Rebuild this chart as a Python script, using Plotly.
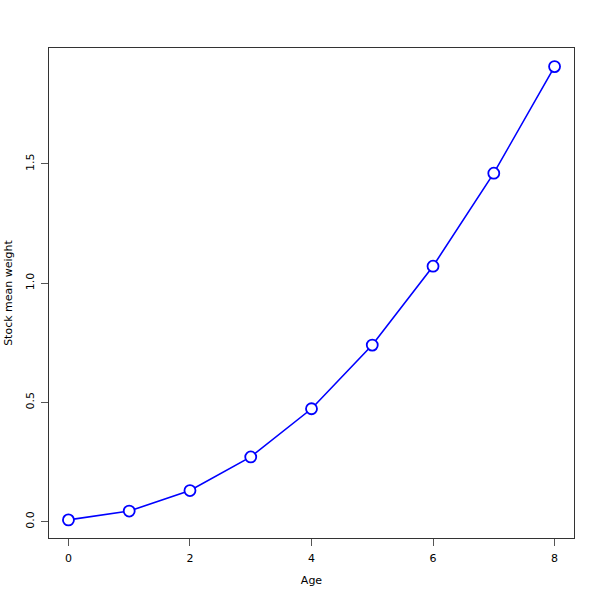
import plotly.graph_objects as go

ages = [0, 1, 2, 3, 4, 5, 6, 7, 8]
weights = [0.007, 0.044, 0.130, 0.271, 0.473, 0.740, 1.071, 1.461, 1.908]
x_ticks = [0, 2, 4, 6, 8]
y_ticks = [0.0, 0.5, 1.0, 1.5]
y_tick_labels = ["0.0", "0.5", "1.0", "1.5"]

fig = go.Figure()
fig.add_trace(go.Scatter(
    x=ages, y=weights, mode="lines+markers",
    line=dict(color="#0000ff", width=1.6),
    marker=dict(symbol="circle", size=11, color="white",
                line=dict(color="#0000ff", width=1.8)),
    showlegend=False,
))

axis_common = dict(
    showgrid=False, zeroline=False, showline=True, mirror=True,
    linecolor="#333333", linewidth=1, ticks="outside", ticklen=7,
    tickcolor="#555555", tickwidth=1, automargin=False,
    ticklabelstandoff=3,
    tickfont=dict(family="DejaVu Sans", size=11, color="#000000"),
)

fig.update_layout(
    width=600, height=600,
    paper_bgcolor="white", plot_bgcolor="white",
    margin=dict(l=49, r=26, t=48, b=62),
    font=dict(family="DejaVu Sans", size=11, color="#000000"),
    xaxis=dict(range=[-0.32, 8.32], tickvals=x_ticks,
               title=dict(text="Age", standoff=12, font=dict(size=11)),
               **axis_common),
    yaxis=dict(range=[-0.069, 1.986], tickvals=y_ticks, ticktext=y_tick_labels,
               tickangle=-90,
               title=dict(text="Stock mean weight", standoff=8, font=dict(size=11)),
               **axis_common),
)

fig.write_html("out.html", config={"displayModeBar": False},
               post_script="document.body.style.margin='0';")
